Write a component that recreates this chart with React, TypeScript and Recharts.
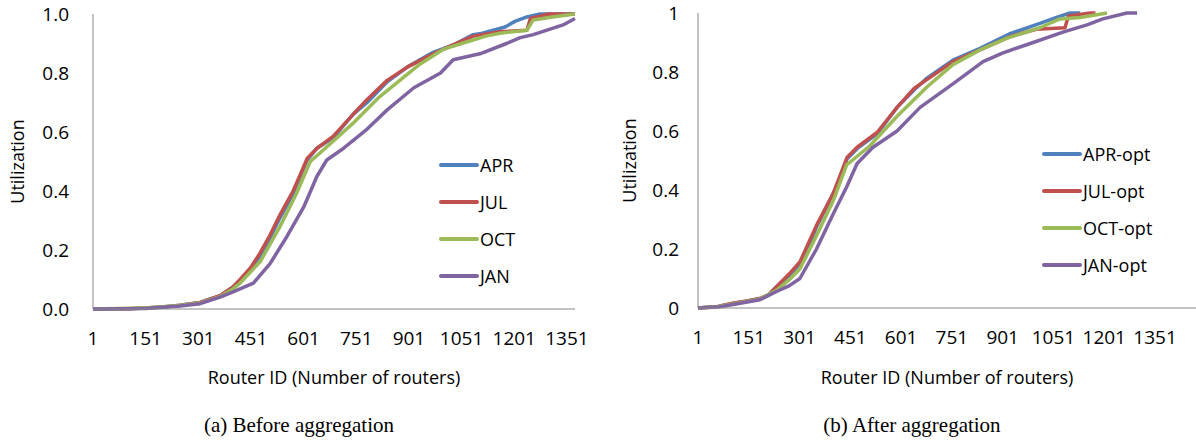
import { LineChart, Line, XAxis, YAxis, Legend } from 'recharts';

const xTicks = [1, 151, 301, 451, 601, 751, 901, 1051, 1201, 1351];
const yTicks = [0, 0.2, 0.4, 0.6, 0.8, 1];

// (a) before aggregation
const aprIds = [1, 100, 150, 200, 249, 306, 363, 400, 420, 450, 477, 505, 534, 571, 595, 611, 639, 685, 742, 782, 839, 896, 970, 1027, 1084, 1110, 1175, 1203, 1237, 1274, 1374];
const aprUtil = [0, 0.001, 0.003, 0.007, 0.013, 0.022, 0.045, 0.075, 0.098, 0.135, 0.18, 0.24, 0.31, 0.39, 0.46, 0.505, 0.545, 0.58, 0.66, 0.7, 0.77, 0.82, 0.87, 0.895, 0.93, 0.935, 0.956, 0.975, 0.99, 1, 1];
const julIds = [1, 100, 150, 200, 249, 306, 363, 400, 420, 450, 477, 505, 534, 571, 595, 611, 639, 685, 742, 782, 839, 896, 970, 1027, 1084, 1160, 1237, 1247, 1300, 1374];
const julUtil = [0, 0.001, 0.003, 0.007, 0.013, 0.022, 0.045, 0.075, 0.1, 0.14, 0.19, 0.25, 0.32, 0.4, 0.465, 0.51, 0.545, 0.585, 0.66, 0.71, 0.775, 0.82, 0.865, 0.895, 0.925, 0.94, 0.945, 0.985, 1, 1];
const octIds = [1, 150, 249, 306, 363, 400, 420, 477, 534, 580, 620, 677, 742, 818, 875, 932, 998, 1065, 1120, 1160, 1237, 1255, 1310, 1374];
const octUtil = [0, 0.003, 0.012, 0.02, 0.042, 0.068, 0.088, 0.16, 0.28, 0.39, 0.5, 0.56, 0.63, 0.72, 0.775, 0.83, 0.88, 0.905, 0.925, 0.935, 0.945, 0.98, 0.99, 1];
const janIds = [1, 150, 249, 306, 363, 400, 458, 506, 553, 601, 639, 667, 715, 782, 839, 915, 991, 1027, 1103, 1179, 1218, 1255, 1340, 1374];
const janUtil = [0, 0.002, 0.01, 0.018, 0.04, 0.058, 0.088, 0.155, 0.245, 0.345, 0.45, 0.505, 0.545, 0.61, 0.675, 0.75, 0.8, 0.845, 0.865, 0.9, 0.92, 0.93, 0.963, 0.985];

// (b) after aggregation
const aprOptIds = [1, 60, 105, 150, 184, 210, 233, 270, 302, 330, 351, 380, 401, 425, 441, 471, 530, 589, 640, 678, 754, 834, 923, 1011, 1060, 1100, 1130];
const aprOptUtil = [0, 0.005, 0.016, 0.025, 0.032, 0.045, 0.072, 0.11, 0.15, 0.21, 0.275, 0.34, 0.39, 0.45, 0.505, 0.54, 0.59, 0.68, 0.74, 0.78, 0.84, 0.88, 0.93, 0.965, 0.985, 1, 1];
const julOptIds = [1, 60, 105, 150, 184, 210, 233, 270, 302, 351, 401, 441, 471, 530, 589, 640, 678, 754, 834, 923, 1000, 1085, 1095, 1160, 1175];
const julOptUtil = [0, 0.005, 0.016, 0.025, 0.032, 0.045, 0.072, 0.115, 0.156, 0.28, 0.39, 0.51, 0.545, 0.595, 0.68, 0.745, 0.775, 0.835, 0.875, 0.92, 0.945, 0.95, 0.99, 1, 1];
const octOptIds = [1, 60, 105, 184, 233, 270, 302, 351, 401, 440, 456, 509, 589, 678, 754, 834, 914, 1011, 1070, 1130, 1209];
const octOptUtil = [0, 0.004, 0.014, 0.03, 0.06, 0.095, 0.132, 0.245, 0.365, 0.485, 0.5, 0.55, 0.65, 0.75, 0.825, 0.875, 0.915, 0.95, 0.98, 0.985, 1];
const janOptIds = [1, 60, 105, 184, 233, 270, 302, 351, 401, 440, 471, 518, 589, 657, 754, 843, 902, 991, 1079, 1150, 1197, 1268, 1298];
const janOptUtil = [0, 0.003, 0.012, 0.028, 0.056, 0.075, 0.1, 0.2, 0.32, 0.41, 0.49, 0.545, 0.6, 0.68, 0.76, 0.835, 0.865, 0.9, 0.935, 0.96, 0.98, 1, 1];

const colors = ['#4F81BD', '#C0504D', '#9BBB59', '#8064A2'];
const font = '"Open Sans", sans-serif';
const axisGray = '#868686';

const toPoints = (ids: number[], vals: number[]) => ids.map((id, i) => ({ id, u: vals[i] }));

const before = [
  { name: 'APR', data: toPoints(aprIds, aprUtil) },
  { name: 'JUL', data: toPoints(julIds, julUtil) },
  { name: 'OCT', data: toPoints(octIds, octUtil) },
  { name: 'JAN', data: toPoints(janIds, janUtil) },
];
const after = [
  { name: 'APR-opt', data: toPoints(aprOptIds, aprOptUtil) },
  { name: 'JUL-opt', data: toPoints(julOptIds, julOptUtil) },
  { name: 'OCT-opt', data: toPoints(octOptIds, octOptUtil) },
  { name: 'JAN-opt', data: toPoints(janOptIds, janOptUtil) },
];

function LegendList({ items }: { items: { name: string }[] }) {
  return (
    <div>
      {items.map((s, i) => (
        <div key={s.name} style={{ display: 'flex', alignItems: 'center', height: 37 }}>
          <svg width={40} height={6}>
            <line x1={2} y1={3} x2={38} y2={3} stroke={colors[i]} strokeWidth={4} strokeLinecap="round" />
          </svg>
          <span style={{ fontFamily: font, fontSize: 18, color: '#000', marginLeft: 1 }}>{s.name}</span>
        </div>
      ))}
    </div>
  );
}

const tickStyle = { fill: '#000', fontSize: 19, fontFamily: font };
const titleStyle = { fill: '#000', fontSize: 18, fontFamily: font };
const captionStyle = {
  position: 'absolute' as const,
  width: 220,
  top: 413,
  textAlign: 'center' as const,
  fontFamily: '"Liberation Serif", serif',
  fontSize: 21,
  color: '#000',
  whiteSpace: 'nowrap' as const,
};

export default function App() {
  return (
    <div style={{ position: 'relative', width: 1196, height: 445, background: '#fff' }}>
      <style>{'body{margin:0}'}</style>
      <div style={{ position: 'absolute', left: 0, top: 0 }}>
        <LineChart width={600} height={445} margin={{ top: 14, right: 25, left: 0, bottom: 50 }}>
          <XAxis
            type="number"
            dataKey="id"
            domain={[1, 1374]}
            ticks={xTicks}
            interval={0}
            tickLine={false}
            tickMargin={17}
            axisLine={{ stroke: axisGray }}
            tick={tickStyle}
            height={86}
            label={{ value: 'Router ID (Number of routers)', position: 'insideBottom', offset: 11, style: titleStyle }}
          />
          <YAxis
            type="number"
            domain={[0, 1]}
            ticks={yTicks}
            tickFormatter={(v: number) => v.toFixed(1)}
            width={93}
            tickLine={false}
            tickSize={6}
            tickMargin={18}
            axisLine={{ stroke: axisGray }}
            tick={tickStyle}
            label={{ value: 'Utilization', angle: -90, position: 'insideLeft', offset: 18, style: { ...titleStyle, textAnchor: 'middle' } }}
          />
          {before.map((s, i) => (
            <Line key={s.name} name={s.name} data={s.data} dataKey="u" type="linear" stroke={colors[i]} strokeWidth={3.5} strokeLinejoin="round" dot={false} isAnimationActive={false} />
          ))}
          <Legend layout="vertical" align="center" verticalAlign="middle" content={() => <LegendList items={before} />} wrapperStyle={{ left: 439, top: 146, width: 130 }} />
        </LineChart>
      </div>
      <div style={{ position: 'absolute', left: 600, top: 0 }}>
        <LineChart width={596} height={445} margin={{ top: 13, right: 0, left: 0, bottom: 50 }}>
          <XAxis
            type="number"
            dataKey="id"
            domain={[1, 1472]}
            ticks={xTicks}
            interval={0}
            tickLine={false}
            tickMargin={17}
            axisLine={{ stroke: axisGray }}
            tick={tickStyle}
            height={87}
            label={{ value: 'Router ID (Number of routers)', position: 'insideBottom', offset: 11, style: titleStyle }}
          />
          <YAxis
            type="number"
            domain={[0, 1]}
            ticks={yTicks}
            width={98}
            tickLine={false}
            tickSize={6}
            tickMargin={13}
            axisLine={{ stroke: axisGray }}
            tick={tickStyle}
            label={{ value: 'Utilization', angle: -90, position: 'insideLeft', offset: 30, style: { ...titleStyle, textAnchor: 'middle' } }}
          />
          {after.map((s, i) => (
            <Line key={s.name} name={s.name} data={s.data} dataKey="u" type="linear" stroke={colors[i]} strokeWidth={3.5} strokeLinejoin="round" dot={false} isAnimationActive={false} />
          ))}
          <Legend layout="vertical" align="center" verticalAlign="middle" content={() => <LegendList items={after} />} wrapperStyle={{ left: 442, top: 135, width: 150 }} />
        </LineChart>
      </div>
      <div style={{ ...captionStyle, left: 189 }}>(a) Before aggregation</div>
      <div style={{ ...captionStyle, left: 802 }}>(b) After aggregation</div>
    </div>
  );
}
